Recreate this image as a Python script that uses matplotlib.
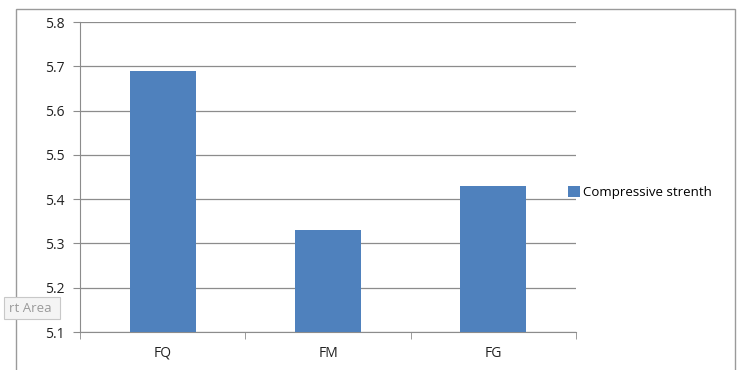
import matplotlib.pyplot as plt
from matplotlib.patches import Rectangle

categories = ["FQ", "FM", "FG"]
strength = [5.69, 5.33, 5.43]
series_name = "Compressive strenth"
y_ticks = [5.1, 5.2, 5.3, 5.4, 5.5, 5.6, 5.7, 5.8]

bar_color = "#4f81bd"
grid_color = "#8c8c8c"

plt.rcParams["font.family"] = ["Open Sans", "DejaVu Sans"]

fig = plt.figure(figsize=(7.4, 3.7), dpi=100)
ax = fig.add_axes([80 / 740, 1 - 332 / 370, 496 / 740, 310 / 370])

x = list(range(len(categories)))
ax.bar(x, [v - y_ticks[0] for v in strength], bottom=y_ticks[0], width=0.4,
       color=bar_color, label=series_name, zorder=3)

ax.set_xlim(-0.5, len(categories) - 0.5)
ax.set_ylim(y_ticks[0], y_ticks[-1])
ax.set_yticks(y_ticks)
ax.set_yticklabels([f"{t:.1f}" for t in y_ticks], fontsize=10, color="#222222")
ax.yaxis.grid(True, color=grid_color, linewidth=0.9, zorder=0)

# category labels centred, tick marks on the boundaries
ax.set_xticks(x)
ax.set_xticklabels(categories, fontsize=10, color="#222222")
ax.tick_params(axis="x", length=0, pad=10)
ax.set_xticks([i - 0.5 for i in range(len(categories) + 1)], minor=True)
ax.tick_params(axis="x", which="minor", length=5, color=grid_color, direction="out")
ax.tick_params(axis="y", length=5, color=grid_color, pad=6)

for side in ["top", "right"]:
    ax.spines[side].set_visible(False)
for side in ["left", "bottom"]:
    ax.spines[side].set_color(grid_color)

leg = ax.legend(loc="center left", bbox_to_anchor=(0.96, 0.45), frameon=False,
                fontsize=9.5, handlelength=0.9, handleheight=0.9, handletextpad=0.25)

# chart area border
fig.patches.append(Rectangle((16 / 740, -0.05), 719 / 740, 1 - 9 / 370 + 0.05,
                             transform=fig.transFigure, fill=False,
                             edgecolor="#9a9a9a", linewidth=1.0))

# hover tooltip left over in the corner
fig.text(9 / 740, 1 - 308 / 370, "rt Area ", fontsize=9.5, color="#9a9a9a",
         va="center", ha="left",
         bbox=dict(boxstyle="square,pad=0.35", facecolor="#f4f4f4",
                   edgecolor="#c8c8c8", linewidth=0.8))

fig.savefig("out.png", dpi=100)
